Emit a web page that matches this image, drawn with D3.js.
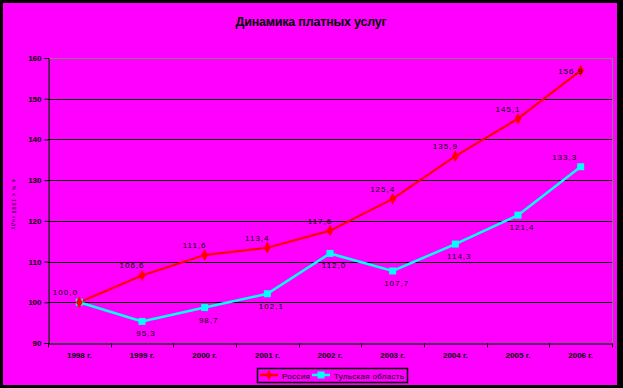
<!DOCTYPE html>
<html>
<head>
<meta charset="utf-8">
<script src="https://cdn.jsdelivr.net/npm/d3@7"></script>
<style>
	body { margin: 0; background: #000; }
	svg { display: block; }
	text { font-family: "Liberation Sans", Arial, sans-serif; }
</style>
</head>
<body>
<div id="chart"></div>
<script>
// chart data
var years = ['1998 г.', '1999 г.', '2000 г.', '2001 г.', '2002 г.', '2003 г.', '2004 г.', '2005 г.', '2006 г.'];
var russia = [100.0, 106.6, 111.6, 113.4, 117.6, 125.4, 135.9, 145.1, 156.9];
var tula = [100.0, 95.3, 98.7, 102.1, 112.0, 107.7, 114.3, 121.4, 133.3];
var yTicks = [90, 100, 110, 120, 130, 140, 150, 160];
var seriesNames = ['Россия', 'Тульская область'];

var width = 623, height = 388;
// plot area
var plotLeft = 48, plotRight = 612, plotTop = 58, plotBottom = 343;

var svg = d3.select('#chart').append('svg')
	.attr('width', width)
	.attr('height', height);

// background with black frame
svg.append('rect').attr('width', width).attr('height', height).attr('fill', '#000');
svg.append('rect').attr('x', 3).attr('y', 3).attr('width', 614).attr('height', 382).attr('fill', '#ff00ff');

var x = d3.scaleBand().domain(years).range([plotLeft, plotRight]);
var y = d3.scaleLinear().domain([90, 160]).range([plotBottom, plotTop]);
var cx = function(d, i) { return x(years[i]) + x.bandwidth() / 2; };

// title
svg.append('text')
	.attr('x', 311).attr('y', 26)
	.attr('text-anchor', 'middle')
	.attr('font-size', 12.5).attr('font-weight', 'bold')
	.attr('letter-spacing', -0.2)
	.text('Динамика платных услуг');

// plot area border (grey)
svg.append('rect')
	.attr('x', plotLeft + 0.5).attr('y', plotTop + 0.5)
	.attr('width', plotRight - plotLeft).attr('height', plotBottom - plotTop)
	.attr('fill', 'none').attr('stroke', '#808080').attr('stroke-width', 1);

// gridlines
svg.append('g').selectAll('line')
	.data(yTicks.filter(function(t) { return t > 90 && t < 160; }))
	.enter().append('line')
	.attr('x1', plotLeft).attr('x2', plotRight)
	.attr('y1', function(d) { return Math.round(y(d)) + 0.5; })
	.attr('y2', function(d) { return Math.round(y(d)) + 0.5; })
	.attr('stroke', '#000');

// axes
var yAxis = svg.append('g')
	.attr('transform', 'translate(' + (plotLeft + 0.5) + ',0)')
	.call(d3.axisLeft(y).tickValues(yTicks).tickSize(4).tickPadding(3).tickFormat(d3.format('d')));
var xAxis = svg.append('g')
	.attr('transform', 'translate(0,' + (plotBottom + 0.5) + ')')
	.call(d3.axisBottom(x).tickSize(0).tickPadding(10));
// category boundary ticks
xAxis.selectAll('.bound')
	.data(d3.range(years.length + 1))
	.enter().append('line')
	.attr('x1', function(i) { return Math.round(plotLeft + i * x.bandwidth()) + 0.5; })
	.attr('x2', function(i) { return Math.round(plotLeft + i * x.bandwidth()) + 0.5; })
	.attr('y1', 0).attr('y2', 4)
	.attr('stroke', '#000');
svg.selectAll('.domain').attr('stroke', '#000');
svg.selectAll('.tick line').attr('stroke', '#000');
svg.selectAll('.tick text')
	.attr('font-size', 8).attr('font-weight', 'bold')
	.attr('fill', '#000').attr('font-family', '"Liberation Sans", Arial, sans-serif');
xAxis.selectAll('.tick text').attr('dy', '0.5em');

// y axis title
svg.append('text')
	.attr('transform', 'translate(12,205) rotate(90)')
	.attr('text-anchor', 'middle')
	.attr('font-size', 5)
	.attr('letter-spacing', 1)
	.text('в % к 1998 году');

// lines
var line = d3.line().x(cx).y(function(d) { return y(d); });

svg.append('path').datum(tula)
	.attr('d', line).attr('fill', 'none')
	.attr('stroke', '#00ffff').attr('stroke-width', 2.5);
svg.append('path').datum(russia)
	.attr('d', line).attr('fill', 'none')
	.attr('stroke', '#ff0000').attr('stroke-width', 2.2);

// markers
svg.append('g').selectAll('rect')
	.data(tula).enter().append('rect')
	.attr('x', function(d, i) { return cx(d, i) - 3.5; })
	.attr('y', function(d) { return y(d) - 3.5; })
	.attr('width', 7).attr('height', 7)
	.attr('fill', '#00ffff');
svg.append('g').selectAll('path')
	.data(russia).enter().append('path')
	.attr('d', d3.symbol().type(d3.symbolDiamond).size(40))
	.attr('transform', function(d, i) { return 'translate(' + cx(d, i) + ',' + y(d) + ')'; })
	.attr('fill', '#ff0000');

// data labels
var fmt = function(d) { return d3.format('.1f')(d).replace('.', ','); };
svg.append('g').selectAll('text')
	.data(russia).enter().append('text')
	.attr('x', function(d, i) { return cx(d, i) - (i === 0 ? 14 : 10); })
	.attr('y', function(d, i) { return y(d) + (i === russia.length - 1 ? 3 : -7); })
	.attr('text-anchor', 'middle')
	.attr('font-size', 8).attr('letter-spacing', 1)
	.text(fmt);
svg.append('g').selectAll('text')
	.data(tula.slice(1)).enter().append('text')
	.attr('x', function(d, i) { return cx(d, i + 1) + (i + 1 === tula.length - 1 ? -16 : 4); })
	.attr('y', function(d, i) { return y(d) + (i + 1 === tula.length - 1 ? -7 : 15); })
	.attr('text-anchor', 'middle')
	.attr('font-size', 8).attr('letter-spacing', 1)
	.text(fmt);

// legend
var legend = svg.append('g');
legend.append('rect')
	.attr('x', 257.5).attr('y', 368.5).attr('width', 150).attr('height', 14)
	.attr('fill', 'none').attr('stroke', '#000').attr('stroke-width', 1.5);
var legendColors = ['#ff0000', '#00ffff'];
var legendX = [260, 312];
seriesNames.forEach(function(name, i) {
	var lx = legendX[i];
	legend.append('line')
		.attr('x1', lx).attr('x2', lx + 18).attr('y1', 375).attr('y2', 375)
		.attr('stroke', legendColors[i]).attr('stroke-width', 2.5);
	if (i === 0)
		legend.append('path')
			.attr('d', d3.symbol().type(d3.symbolDiamond).size(30))
			.attr('transform', 'translate(' + (lx + 9) + ',375)')
			.attr('fill', legendColors[i]);
	else
		legend.append('rect')
			.attr('x', lx + 5.5).attr('y', 371.5).attr('width', 7).attr('height', 7)
			.attr('fill', legendColors[i]);
	legend.append('text')
		.attr('x', lx + 22).attr('y', 378.5)
		.attr('font-size', 8).attr('letter-spacing', 0.3)
		.text(name);
});
</script>
</body>
</html>
